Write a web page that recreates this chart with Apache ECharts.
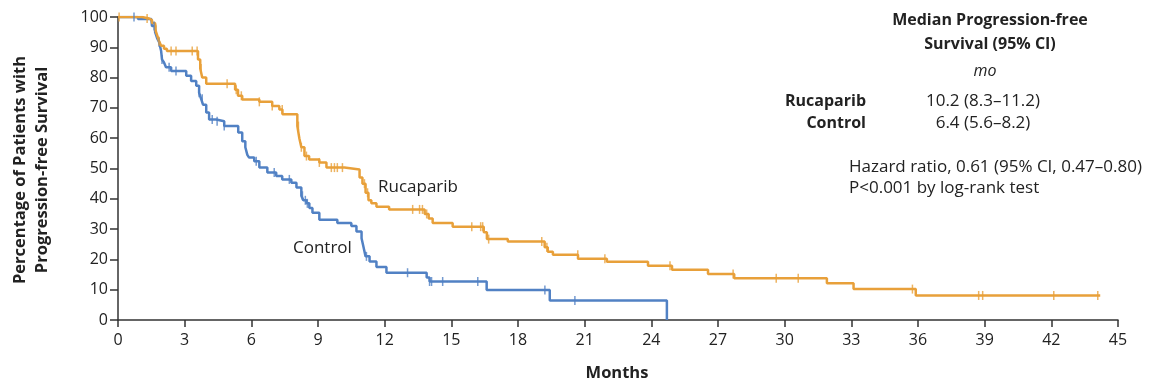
<!DOCTYPE html>
<html><head><meta charset="utf-8">
<script src="https://cdn.jsdelivr.net/npm/echarts@6/dist/echarts.min.js"></script>
<style>html,body{margin:0;padding:0;background:#fff}#c{width:1154px;height:385px}</style>
</head><body><div id="c"></div>
<script>
// Rucaparib step curve (months, % progression-free)
const rucaMonths = [0,1.08,1.4,1.53,1.67,1.76,1.85,1.94,2.07,2.2,3.6,3.7,3.79,3.97,5.27,5.4,5.59,6.36,6.94,7.26,7.4,8.07,8.16,8.25,8.39,8.6,9.06,9.38,10.19,10.87,11.0,11.14,11.27,11.4,11.63,12.2,13.8,13.98,14.16,15.06,16.46,16.6,17.54,19.2,19.34,19.57,20.7,22.0,23.85,24.93,26.55,27.73,31.9,33.1,35.9,44.2];
const rucaPct    = [100,99.5,99,98,96,94,92,90.5,89.5,88.8,86,83,80,78,76,74,72.8,72,70.6,69.5,67.9,64,60,57,54.1,53,52,50.3,49.7,47,45,42,39.5,38.5,37.4,36.5,35,33.5,32,30.8,29,26.7,25.9,24,22.5,21.5,20.2,19.2,17.9,16.6,15.2,13.8,12.1,10.2,8.1,8.1];
// Control step curve
const ctrlMonths = [0,0.9,1.5,1.53,1.67,1.76,1.85,1.94,1.98,2.07,2.16,2.39,3.07,3.29,3.52,3.65,3.74,3.83,3.97,4.1,4.42,4.78,5.41,5.59,5.73,5.82,5.9,6.13,6.36,6.72,7.12,7.39,7.8,8.03,8.25,8.34,8.48,8.61,8.75,9.06,9.87,10.5,10.73,10.96,11.05,11.14,11.32,11.63,12.08,13.89,14.02,16.59,19.43,24.7,24.7];
const ctrlPct    = [100,99.3,98.8,97,95,93,91.7,88.8,86,85,83.4,82.2,80.6,78.9,77.3,75,73,71,68.5,66.2,65.6,64,61.9,59,57,54.5,53.6,52.4,50.3,48.7,47.5,46.4,45.3,43.7,41,39.5,38.5,37,35.4,33.1,32,31,29.2,27,24,21,19.3,17.5,15.6,14,12.7,9.9,6.4,6.4,0];
// Censoring times (months)
const rucaCensor = [0.05,1.31,1.71,1.85,2.39,2.61,3.34,3.56,3.74,4.91,5.32,5.55,6.36,6.94,7.39,8.12,8.25,8.48,9.06,9.6,9.74,9.87,10.1,11.09,11.23,13.26,13.57,13.7,13.89,15.92,16.32,16.41,16.68,19.07,19.3,20.69,21.91,24.84,27.68,29.62,30.61,35.75,38.73,38.91,42.11,44.09];
const ctrlCensor = [0.72,1.62,1.85,1.98,2.3,2.61,3.65,3.79,4.24,4.46,4.78,6.22,7.03,7.71,8.3,8.43,8.52,11.18,13.03,14.02,14.11,14.61,16.19,19.21,20.56];
const xTicks = [0,3,6,9,12,15,18,21,24,27,30,33,36,39,42,45];
const yTicks = [0,10,20,30,40,50,60,70,80,90,100];

const ORANGE = '#E8A03A', BLUE = '#5181C4';
function pairs(xs, ys){ return xs.map((x,i)=>[x, ys[i]]); }
function stepAt(xs, ys, t){ let v = ys[0]; for (let i=0;i<xs.length;i++){ if (xs[i] <= t) v = ys[i]; } return v; }
function censorPts(times, xs, ys){ return times.map(t=>[t, stepAt(xs, ys, t)]); }

const FONT = '"Open Sans", "Noto Sans", sans-serif';
const chart = echarts.init(document.getElementById('c'));
function txt(t, x, y, align, extra){ return {type:'text', x:x, y:y, style:Object.assign({text:t, textAlign:align, textVerticalAlign:'middle', fill:'#222', font:'17px '+FONT}, extra||{})}; }

chart.setOption({
  animation:false,
  grid:{left:118, right:36, top:17, bottom:65, containLabel:false},
  xAxis:{type:'value', min:0, max:45, interval:3,
    axisLine:{lineStyle:{color:'#333', width:1.5}},
    axisTick:{length:7, lineStyle:{color:'#333', width:1.5}},
    axisLabel:{color:'#222', fontSize:16, fontFamily:FONT, margin:12, customValues:xTicks},
    splitLine:{show:false}},
  yAxis:{type:'value', min:0, max:100, interval:10,
    axisLine:{show:true, lineStyle:{color:'#333', width:1.5}},
    axisTick:{show:true, length:8, lineStyle:{color:'#333', width:1.5}},
    axisLabel:{color:'#222', fontSize:16, fontFamily:FONT, margin:10},
    splitLine:{show:false}},
  series:[
    {type:'line', step:'end', data:pairs(ctrlMonths, ctrlPct), showSymbol:false, lineStyle:{color:BLUE, width:2.5}, z:3},
    {type:'line', step:'end', data:pairs(rucaMonths, rucaPct), showSymbol:false, lineStyle:{color:ORANGE, width:2.5}, z:4},
    {type:'scatter', data:censorPts(ctrlCensor, ctrlMonths, ctrlPct), symbol:'rect', symbolSize:[1.5,9], itemStyle:{color:BLUE}, z:5},
    {type:'scatter', data:censorPts(rucaCensor, rucaMonths, rucaPct), symbol:'rect', symbolSize:[1.5,9], itemStyle:{color:ORANGE}, z:6}
  ],
  graphic:[
    txt('Median Progression-free', 990, 20, 'center', {font:'bold 16px '+FONT}),
    txt('Survival (95% CI)', 990, 44, 'center', {font:'bold 16px '+FONT}),
    txt('mo', 985, 71, 'center', {font:'italic 16px '+FONT}),
    txt('Rucaparib', 866, 101, 'right', {font:'bold 16px '+FONT}),
    txt('10.2 (8.3\u201311.2)', 983, 101, 'center'),
    txt('Control', 866, 123, 'right', {font:'bold 16px '+FONT}),
    txt('6.4 (5.6\u20138.2)', 983, 123, 'center'),
    txt('Hazard ratio, 0.61 (95% CI, 0.47\u20130.80)', 849, 167, 'left'),
    txt('P<0.001 by log-rank test', 849, 188, 'left'),
    txt('Rucaparib', 378, 187, 'left'),
    txt('Control', 293, 248, 'left'),
    txt('Months', 617, 373, 'center', {font:'bold 16.5px '+FONT}),
    {type:'text', x:31, y:170, rotation:Math.PI/2, style:{text:'Percentage of Patients with\nProgression-free Survival', textAlign:'center', textVerticalAlign:'middle', fill:'#222', font:'bold 16.5px '+FONT, lineHeight:22}}
  ]
});
</script></body></html>
